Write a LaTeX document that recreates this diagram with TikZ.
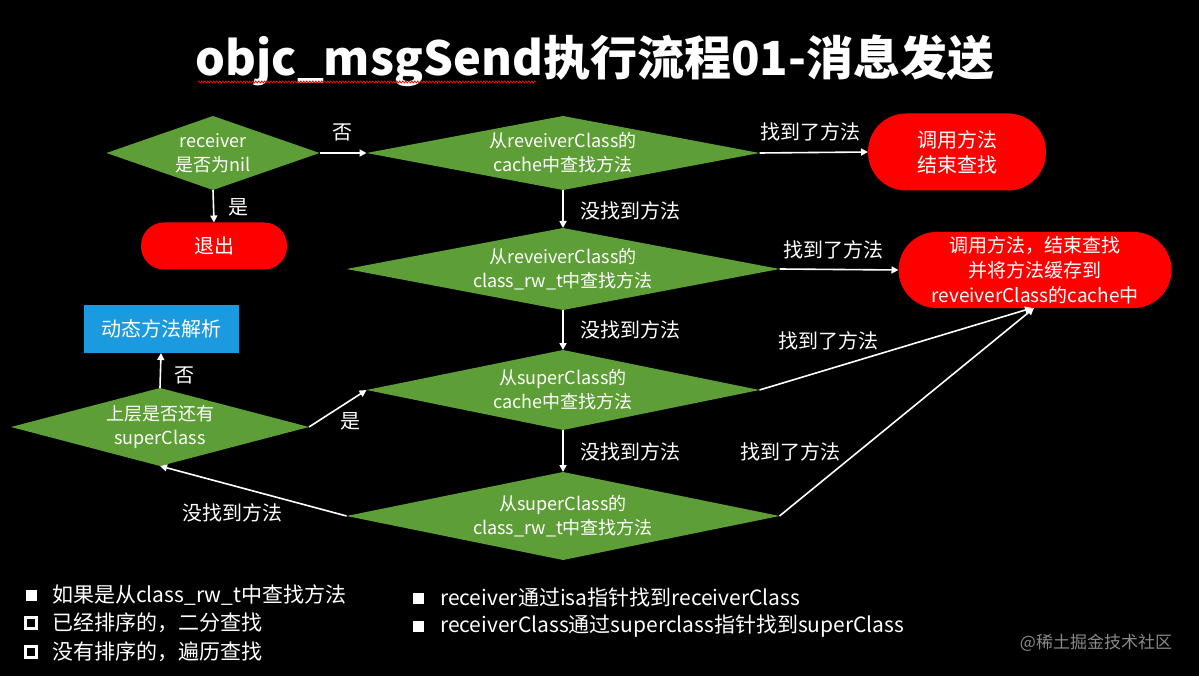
\documentclass[tikz,border=0pt]{standalone}
\usepackage{fontspec}
\setmainfont{Noto Sans CJK SC}
\usetikzlibrary{shapes.geometric,arrows.meta,decorations.pathmorphing}
\definecolor{dgreen}{HTML}{5E9E37}
\definecolor{bred}{HTML}{FF0000}
\definecolor{bblue}{HTML}{1B9AE0}
\definecolor{wmgray}{HTML}{8A8A8A}
\begin{document}
\begin{tikzpicture}[x=1pt,y=-1pt,
  dia/.style={diamond, fill=dgreen, text=white, inner sep=0pt, outer sep=0pt, align=center, font=\fontsize{18}{24}\selectfont},
  redbox/.style={rectangle, fill=bred, text=white, align=center, inner sep=0pt, outer sep=0pt, font=\fontsize{20}{25}\selectfont},
  bluebox/.style={rectangle, fill=bblue, text=white, inner sep=0pt, outer sep=0pt, font=\fontsize{20}{24}\selectfont},
  conn/.style={draw=white, line width=1.6pt, -{Triangle[length=7pt,width=7pt]}},
  lbl/.style={text=white, inner sep=0pt, font=\fontsize{20}{24}\selectfont},
  note/.style={text=white, inner sep=0pt, anchor=west, font=\fontsize{21}{24}\selectfont},
  fullsq/.style={rectangle, fill=white, minimum size=11, inner sep=0pt},
  hollowsq/.style={rectangle, draw=white, line width=2.8pt, minimum size=10.5, inner sep=0pt}
]
\fill[black] (0,0) rectangle (1199,676);
\useasboundingbox (0,0) rectangle (1199,676);

% title
\node[text=white, inner sep=0pt, font=\fontsize{47}{54}\bfseries\selectfont] (title) at (595,61) {objc\_msgSend执行流程01-消息发送};
\draw[bred, line width=0.7pt, decorate, decoration={zigzag, amplitude=1.1pt, segment length=3pt}] (198,82) coordinate (wl) -- (536,82) coordinate (wr);

% diamonds
\node[dia, minimum width=213, minimum height=74, aspect=2.88] (d1) at (213,153) {receiver\\是否为nil};
\node[dia, minimum width=393, minimum height=74, aspect=5.3] (d2) at (563,153) {从reveiverClass的\\cache中查找方法};
\node[dia, minimum width=433, minimum height=82, aspect=5.3] (d3) at (563,269) {从reveiverClass的\\class\_rw\_t中查找方法};
\node[dia, minimum width=393, minimum height=80, aspect=4.9] (d4) at (563,390) {从superClass的\\cache中查找方法};
\node[dia, minimum width=433, minimum height=88, aspect=4.9] (d5) at (563,516) {从superClass的\\class\_rw\_t中查找方法};
\node[dia, minimum width=298, minimum height=78, aspect=3.8] (d6) at (160,427) {上层是否还有\\superClass};

% boxes
\node[redbox, rounded corners=23, minimum width=146, minimum height=47] (exit) at (214,246) {退出};
\node[redbox, rounded corners=38, minimum width=178, minimum height=77] (r1) at (957,152) {调用方法\\结束查找};
\node[redbox, rounded corners=38, minimum width=273, minimum height=76, font=\fontsize{19}{25}\selectfont] (r2) at (1035,270) {调用方法，结束查找\\并将方法缓存到\\reveiverClass的cache中};
\node[bluebox, minimum width=155, minimum height=48] (dyn) at (161,329) {动态方法解析};

% connectors
\draw[conn] (d1.east) -- (d2.west);
\draw[conn] (d1.south) -- (exit.north);
\draw[conn] (d2.east) -- (r1.west);
\draw[conn] (d2.south) -- (d3.north);
\draw[conn] (d3.east) -- (r2.west);
\draw[conn] (d3.south) -- (d4.north);
\draw[conn] (d4.south) -- (d5.north);
\draw[conn] (d4.east) -- ([xshift=-3pt]r2.south);
\draw[conn] (d5.east) -- ([xshift=-1pt]r2.south);
\draw[conn] (d5.west) -- (d6.south);
\draw[conn] (d6.east) -- (d4.west);
\draw[conn] (d6.north) -- (dyn.south);

% labels
\node[lbl] (l1) at (342,132) {否};
\node[lbl] (l2) at (238,207) {是};
\node[lbl] (l3) at (810,132) {找到了方法};
\node[lbl] (l4) at (630,211) {没找到方法};
\node[lbl] (l5) at (833,250) {找到了方法};
\node[lbl] (l6) at (630,330) {没找到方法};
\node[lbl] (l7) at (828,341) {找到了方法};
\node[lbl] (l8) at (630,452) {没找到方法};
\node[lbl] (l9) at (790,452) {找到了方法};
\node[lbl] (l10) at (184,375) {否};
\node[lbl] (l11) at (350,421) {是};
\node[lbl] (l12) at (232,513) {没找到方法};

% notes
\node[fullsq] (b1) at (31,595) {};
\node[note] (t1) at (52,595) {如果是从class\_rw\_t中查找方法};
\node[hollowsq] (b2) at (31,623) {};
\node[note] (t2) at (52,623) {已经排序的，二分查找};
\node[hollowsq] (b3) at (31,652) {};
\node[note] (t3) at (52,652) {没有排序的，遍历查找};
\node[fullsq] (b4) at (418,598) {};
\node[note] (t4) at (440,598) {receiver通过isa指针找到receiverClass};
\node[fullsq] (b5) at (418,626) {};
\node[note] (t5) at (440,626) {receiverClass通过superclass指针找到superClass};

\node[text=wmgray, inner sep=0pt, font=\fontsize{17}{20}\selectfont] (wm) at (1096,643) {@稀土掘金技术社区};
\end{tikzpicture}
\end{document}
